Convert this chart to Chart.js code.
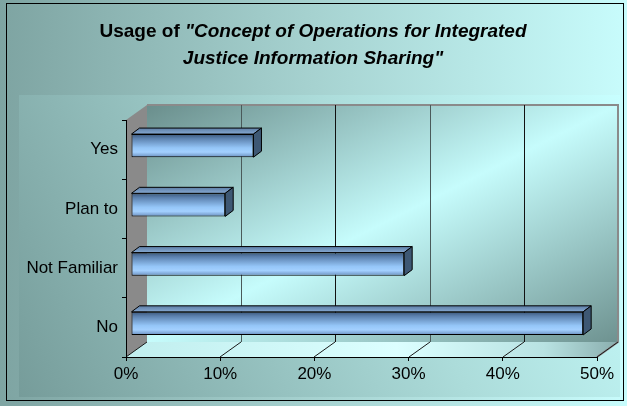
<!DOCTYPE html>
<html>
<head>
<meta charset="utf-8">
<script src="https://cdn.jsdelivr.net/npm/chart.js@4"></script>
<style>
html,body{margin:0;padding:0;background:#fff;}
#wrap{width:627px;height:406px;position:relative;}
</style>
</head>
<body>
<div id="wrap"><canvas id="c" width="627" height="406"></canvas></div>
<script>
const categories = ['Yes', 'Plan to', 'Not Familiar', 'No'];
const usageValues = [13, 10, 29, 48];
const tickValues = [0, 10, 20, 30, 40, 50];
const titleLine1Plain = 'Usage of ';
const titleLine1Italic = '"Concept of Operations for Integrated';
const titleLine2 = 'Justice Information Sharing"';

const FONT = '"Liberation Sans", Arial, sans-serif';
const DEPTH_X = 21, DEPTH_Y = -15;     // wall depth
const BAR_DX = 8, BAR_DY = -6;         // bar depth
const BAR_SHIFT_X = 5, BAR_SHIFT_Y = -4;

const backdrop = {
  id: 'backdrop',
  beforeDraw(chart) {
    const ctx = chart.ctx;
    const W = chart.width, H = chart.height;
    const xs = chart.scales.x;
    const L = chart.chartArea.left, R = chart.chartArea.right;
    const T = chart.chartArea.top, B = chart.chartArea.bottom;
    ctx.save();
    // outer background
    let g = ctx.createLinearGradient(0, 0, W, 0);
    g.addColorStop(0, '#7ea4a2');
    g.addColorStop(0.5, '#a6d2d0');
    g.addColorStop(1, '#c8fcfc');
    ctx.fillStyle = g;
    ctx.fillRect(0, 0, W, H);
    // plot area
    g = ctx.createLinearGradient(620, 95, 19, 397);
    g.addColorStop(0, '#c8ffff');
    g.addColorStop(0.4, '#acdcda');
    g.addColorStop(1, '#769c9a');
    ctx.fillStyle = g;
    ctx.fillRect(19, 95, 601, 302);
    // border
    ctx.strokeStyle = '#000';
    ctx.lineWidth = 1;
    ctx.strokeRect(6.5, 3.5, 617, 397);

    // back wall
    const bl = L + DEPTH_X, br = R + DEPTH_X, bt = T + DEPTH_Y, bb = B + DEPTH_Y;
    const cxw = (bl + br) / 2, cyw = (bt + bb) / 2;
    const dw = br - bl, dh = bb - bt;
    const len = Math.hypot(dw, dh);
    const ux = dh / len, uy = dw / len;
    const proj = Math.abs((bl - cxw) * ux + (bt - cyw) * uy);
    g = ctx.createLinearGradient(cxw - ux * proj, cyw - uy * proj, cxw + ux * proj, cyw + uy * proj);
    g.addColorStop(0, '#6a8e8c');
    g.addColorStop(0.5, '#c6fcfc');
    g.addColorStop(1, '#6e9290');
    ctx.fillStyle = g;
    ctx.fillRect(bl, bt, dw, dh);
    // side wall
    ctx.beginPath();
    ctx.moveTo(L, T); ctx.lineTo(bl, bt); ctx.lineTo(bl, bb); ctx.lineTo(L, B); ctx.closePath();
    ctx.fillStyle = '#8a8a8a';
    ctx.fill();
    // floor
    g = ctx.createLinearGradient(L, 0, br, 0);
    g.addColorStop(0, '#c0eeee');
    g.addColorStop(0.55, '#dcffff');
    g.addColorStop(0.85, '#b8e2e2');
    g.addColorStop(1, '#8aaeae');
    ctx.beginPath();
    ctx.moveTo(L, B); ctx.lineTo(R, B); ctx.lineTo(br, bb); ctx.lineTo(bl, bb); ctx.closePath();
    ctx.fillStyle = g;
    ctx.fill();
    // back wall edges
    ctx.strokeStyle = '#8a8a8a';
    ctx.lineWidth = 2;
    ctx.beginPath();
    ctx.moveTo(bl, bt); ctx.lineTo(br, bt); ctx.lineTo(br, bb); ctx.lineTo(R, B);
    ctx.stroke();
    // gridlines
    ctx.lineWidth = 1;
    tickValues.forEach((v, i) => {
      const x = Math.round(xs.getPixelForValue(v));
      ctx.strokeStyle = '#1a1a1a';
      ctx.beginPath();
      ctx.moveTo(x, B); ctx.lineTo(x + DEPTH_X, B + DEPTH_Y);
      ctx.stroke();
      if (i > 0 && i < tickValues.length - 1) {
        ctx.strokeStyle = (i % 2 === 1) ? '#4a5a5a' : '#111';
        ctx.beginPath();
        ctx.moveTo(x + DEPTH_X + 0.5, B + DEPTH_Y);
        ctx.lineTo(x + DEPTH_X + 0.5, T + DEPTH_Y);
        ctx.stroke();
      }
    });
    ctx.restore();
  },
  afterDraw(chart) {
    const ctx = chart.ctx;
    ctx.save();
    ctx.fillStyle = '#000';
    ctx.textBaseline = 'alphabetic';
    const f1 = 'bold 19px ' + FONT, f2 = 'italic bold 19px ' + FONT;
    ctx.font = f1;
    const w1 = ctx.measureText(titleLine1Plain).width;
    ctx.font = f2;
    const w2 = ctx.measureText(titleLine1Italic).width;
    const cx = 313;
    let x = cx - (w1 + w2) / 2;
    ctx.font = f1;
    ctx.fillText(titleLine1Plain, x, 37);
    ctx.font = f2;
    ctx.fillText(titleLine1Italic, x + w1, 37);
    ctx.textAlign = 'center';
    ctx.fillText(titleLine2, cx, 64);
    ctx.restore();
  }
};

const bars3d = {
  id: 'bars3d',
  beforeDatasetsDraw(chart) {
    chart.ctx.save();
    chart.ctx.translate(BAR_SHIFT_X, BAR_SHIFT_Y);
  },
  afterDatasetsDraw(chart) {
    const ctx = chart.ctx;
    const meta = chart.getDatasetMeta(0);
    meta.data.forEach(bar => {
      const p = bar.getProps(['x', 'y', 'base', 'height'], true);
      const left = p.base, right = p.x;
      const top = p.y - p.height / 2, bottom = p.y + p.height / 2;
      ctx.lineWidth = 1;
      ctx.strokeStyle = '#000';
      ctx.lineJoin = 'round';
      // top face
      ctx.beginPath();
      ctx.moveTo(left, top); ctx.lineTo(left + BAR_DX, top + BAR_DY);
      ctx.lineTo(right + BAR_DX, top + BAR_DY); ctx.lineTo(right, top); ctx.closePath();
      const gt = ctx.createLinearGradient(0, top + BAR_DY, 0, top);
      gt.addColorStop(0, '#5d7ea6');
      gt.addColorStop(1, '#86a9d2');
      ctx.fillStyle = gt;
      ctx.fill(); ctx.stroke();
      // right face
      ctx.beginPath();
      ctx.moveTo(right, top); ctx.lineTo(right + BAR_DX, top + BAR_DY);
      ctx.lineTo(right + BAR_DX, bottom + BAR_DY); ctx.lineTo(right, bottom); ctx.closePath();
      ctx.fillStyle = '#3e5874';
      ctx.fill(); ctx.stroke();
    });
    ctx.restore();
  }
};

function frontGradient(context) {
  const chart = context.chart;
  const ys = chart.scales.y;
  if (!chart.chartArea || !ys) return '#99ccff';
  const el = context.element;
  let yc, h;
  if (el && el.height) { yc = el.y; h = el.height; }
  else {
    yc = ys.getPixelForValue(context.dataIndex);
    h = Math.abs(ys.getPixelForValue(1) - ys.getPixelForValue(0)) * 0.39;
  }
  const g = chart.ctx.createLinearGradient(0, yc - h / 2, 0, yc + h / 2);
  g.addColorStop(0, '#3a567a');
  g.addColorStop(0.18, '#5b80ad');
  g.addColorStop(0.6, '#95c6f8');
  g.addColorStop(0.78, '#a3d0ff');
  g.addColorStop(1, '#6a8fbf');
  return g;
}

new Chart(document.getElementById('c'), {
  type: 'bar',
  data: {
    labels: categories,
    datasets: [{
      data: usageValues,
      backgroundColor: frontGradient,
      borderColor: '#000',
      borderWidth: 1,
      borderSkipped: false,
      barPercentage: 0.39,
      categoryPercentage: 1
    }]
  },
  options: {
    indexAxis: 'y',
    responsive: false,
    animation: false,
    devicePixelRatio: 1,
    layout: { padding: { left: 0, right: 30, top: 120, bottom: 0 } },
    plugins: { legend: { display: false }, title: { display: false }, tooltip: { enabled: false } },
    scales: {
      x: {
        type: 'linear',
        min: 0, max: 50,
        afterBuildTicks(scale) { scale.ticks = tickValues.map(v => ({ value: v })); },
        afterFit(scale) { scale.height = 49; },
        ticks: {
          callback: v => v + '%',
          color: '#000',
          font: { family: FONT, size: 17 },
          padding: 3,
          maxRotation: 0,
          autoSkip: false
        },
        grid: { drawOnChartArea: false, drawTicks: true, tickLength: 4, color: '#000' },
        border: { display: true, color: '#000', width: 1 }
      },
      y: {
        afterFit(scale) { scale.width = 126; },
        ticks: {
          color: '#000',
          font: { family: FONT, size: 17 },
          padding: 4
        },
        grid: { drawOnChartArea: false, drawTicks: true, tickLength: 4, color: '#000', offset: true },
        border: { display: true, color: '#000', width: 1 }
      }
    }
  },
  plugins: [backdrop, bars3d]
});
</script>
</body>
</html>
